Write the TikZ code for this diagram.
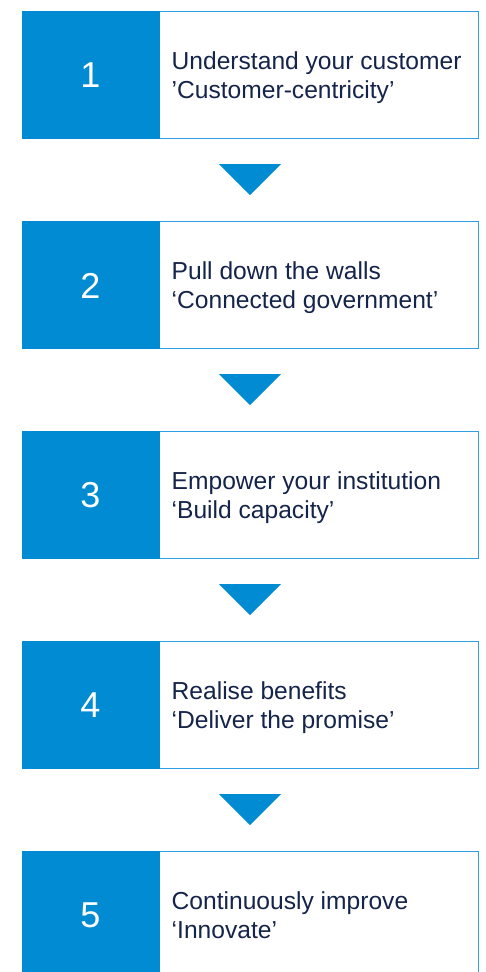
\documentclass[tikz,border=0pt]{standalone}
\usepackage{fontspec}
\setmainfont{Liberation Sans}
\usetikzlibrary{calc}
\definecolor{stepblue}{HTML}{008BD2}
\definecolor{edgeblue}{HTML}{2E9FE0}
\definecolor{inkblue}{HTML}{14244A}
\tikzset{
  stepbox/.style={draw=edgeblue, line width=1pt, fill=white,
    minimum width=456pt, minimum height=127pt, inner sep=0pt},
  numtag/.style={text=white, font=\fontsize{36}{36}\selectfont, inner sep=0pt},
  steptext/.style={text=inkblue, font=\fontsize{24.6}{29}\selectfont,
    anchor=base west, inner sep=0pt},
  downtri/.style={fill=stepblue}
}
\begin{document}
\begin{tikzpicture}[x=1pt,y=-1pt]
\useasboundingbox (0,0) rectangle (486,972);
\clip (0,0) rectangle (486,972);
% five stacked steps, 210pt apart
\foreach \i/\title/\sub in {
  1/{Understand your customer}/{’Customer-centricity’},
  2/{Pull down the walls}/{‘Connected government’},
  3/{Empower your institution}/{‘Build capacity’},
  4/{Realise benefits}/{‘Deliver the promise’},
  5/{Continuously improve}/{‘Innovate’}}{
  \pgfmathsetmacro{\top}{11+210*(\i-1)}
  \node[stepbox] (s\i) at (250,\top+63.5) {};
  \fill[stepblue] (s\i.north west) rectangle ($(s\i.south west)+(138,0)$);
  \node[numtag] (n\i) at ($(s\i.west)+(69,1)$) {\i};
  \node[steptext] (t\i) at ($(s\i.north west)+(150,59)$) {\title};
  \node[steptext] (u\i) at ($(s\i.north west)+(150,88)$) {\sub};
}
% downward triangles between consecutive steps
\foreach \a/\b in {1/2,2/3,3/4,4/5}{
  \coordinate (m\a) at ($(s\a.south)!0.5!(s\b.north)$);
  \fill[downtri] ($(m\a)+(-31,-15.5)$) -- ($(m\a)+(31,-15.5)$) -- ($(m\a)+(0,15.5)$) -- cycle;
}
\end{tikzpicture}
\end{document}
